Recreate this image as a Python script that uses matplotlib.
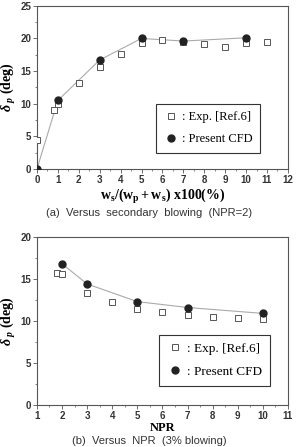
import matplotlib
matplotlib.use("Agg")
import matplotlib.pyplot as plt
from matplotlib.ticker import MultipleLocator

# (a) versus secondary blowing
a_exp_x = [0, 0.8, 1, 2, 3, 4, 5, 6, 7, 8, 9, 10, 11]
a_exp_y = [4.5, 9.0, 10.0, 13.1, 15.6, 17.6, 19.3, 19.8, 19.5, 19.2, 18.7, 19.3, 19.4]
a_cfd_x = [0, 1, 3, 5, 7, 10]
a_cfd_y = [0.0, 10.5, 16.7, 20.0, 19.6, 20.1]

# (b) versus NPR
b_exp_x = [1.8, 2, 3, 4, 5, 6, 7, 8, 9, 10]
b_exp_y = [15.7, 15.6, 13.3, 12.2, 11.4, 11.1, 10.7, 10.5, 10.3, 10.2]
b_cfd_x = [2, 3, 5, 7, 10]
b_cfd_y = [16.8, 14.4, 12.3, 11.6, 10.9]

serif = "Liberation Serif"
sans = "Liberation Sans"
frame = "#555555"

plt.rcParams["mathtext.fontset"] = "custom"
plt.rcParams["mathtext.rm"] = "Liberation Serif:bold"
plt.rcParams["mathtext.bf"] = "Liberation Serif:bold"
plt.rcParams["mathtext.it"] = "Liberation Serif:italic:bold"

fig = plt.figure(figsize=(2.98, 4.47), dpi=100)
ax1 = fig.add_axes([0.124, 0.622, 0.842, 0.365])
ax2 = fig.add_axes([0.124, 0.094, 0.842, 0.376])


def style(ax, xlim, ylim, ymaj, ymin):
    ax.set_xlim(*xlim)
    ax.set_ylim(*ylim)
    ax.xaxis.set_major_locator(MultipleLocator(1))
    ax.xaxis.set_minor_locator(MultipleLocator(0.5))
    ax.yaxis.set_major_locator(MultipleLocator(ymaj))
    ax.yaxis.set_minor_locator(MultipleLocator(ymin))
    ax.tick_params(which="major", length=3, width=0.6, color=frame, labelsize=7, pad=1)
    ax.tick_params(which="minor", length=1.5, width=0.5, color=frame)
    for lab in ax.get_xticklabels() + ax.get_yticklabels():
        lab.set_fontfamily(sans)
        lab.set_fontweight("bold")
        lab.set_color("#333333")
    for s in ax.spines.values():
        s.set_color(frame)
        s.set_linewidth(0.8)
    ax.set_ylabel(r"$\delta_{\ p}$ (deg)", fontfamily=serif, fontweight="bold",
                  fontsize=10, labelpad=2)


def draw(ax, ex, ey, cx, cy, fs, anchor):
    ax.plot(cx, cy, color="#aaaaaa", lw=0.8, zorder=2)
    ax.plot(ex, ey, ls="none", marker="s", ms=4.5, mfc="white", mec="#555555",
            mew=0.7, zorder=3, label=": Exp. [Ref.6]")
    ax.plot(cx, cy, ls="none", marker="o", ms=5, mfc="#222222", mec="#222222",
            zorder=4, label=": Present CFD")
    leg = ax.legend(loc="lower right", prop={"family": serif, "size": fs},
                    fancybox=False, framealpha=1, edgecolor="#333333",
                    handletextpad=0.3, borderpad=0.6, labelspacing=0.8,
                    handlelength=1.2, bbox_to_anchor=anchor)
    leg.get_frame().set_linewidth(0.8)


draw(ax1, a_exp_x, a_exp_y, a_cfd_x, a_cfd_y, 9, (0.915, 0.06))
style(ax1, (0, 12), (0, 25), 5, 2.5)
ax1.set_xlabel(r"$\mathbf{w_s/(w_p+w_s)}$ x100(%)", fontfamily=serif,
               fontweight="bold", fontsize=10, labelpad=2)

draw(ax2, b_exp_x, b_exp_y, b_cfd_x, b_cfd_y, 9.5, (0.955, 0.075))
style(ax2, (1, 11), (0, 20), 5, 2.5)
ax2.set_xlabel("NPR", fontfamily=serif, fontweight="bold", fontsize=9, labelpad=1)

fig.text(0.5, 0.523, "(a)  Versus  secondary  blowing  (NPR=2)", ha="center",
         va="center", fontfamily=sans, fontsize=8, color="#333333")
fig.text(0.5, 0.014, "(b)  Versus  NPR  (3% blowing)", ha="center",
         va="center", fontfamily=sans, fontsize=8, color="#333333")

fig.savefig("out.png", dpi=100)
